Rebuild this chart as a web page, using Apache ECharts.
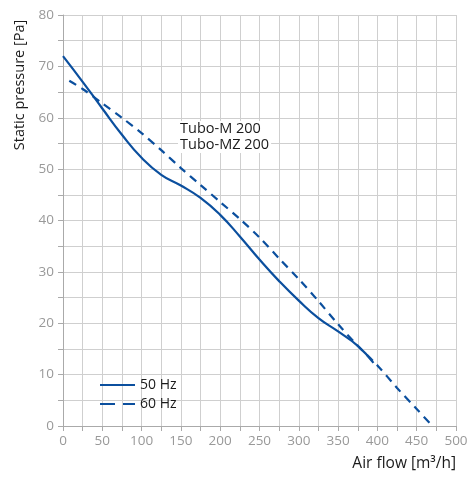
<!DOCTYPE html>
<html>
<head>
<meta charset="utf-8">
<script src="https://cdn.jsdelivr.net/npm/echarts@6/dist/echarts.min.js"></script>
<style>
html,body{margin:0;padding:0;background:#fff;}
#c{width:471px;height:481px;}
</style>
</head>
<body>
<div id="c"></div>
<script>
const flow50 = [0, 25, 50, 75, 100, 125, 150, 175, 200, 225, 250, 275, 300, 325, 350, 375, 395];
const pres50 = [72, 67, 61.8, 56.7, 52.2, 48.9, 46.8, 44.4, 41.1, 36.9, 32.4, 28.2, 24.4, 21.0, 18.4, 15.6, 12.3];
const flow60 = [8, 25, 50, 75, 100, 125, 150, 175, 200, 225, 250, 275, 300, 325, 350, 375, 400, 425, 450, 470];
const pres60 = [67.2, 65.6, 62.8, 60, 57, 53.7, 50.2, 46.9, 43.6, 40.3, 36.7, 32.6, 28.6, 24.3, 19.8, 15.6, 11.8, 7.4, 3.3, 0];
const seriesNames = ['50 Hz', '60 Hz'];
const xTicks = {min: 0, max: 500, step: 25, labelStep: 50};
const yTicks = {min: 0, max: 80, step: 5, labelStep: 10};
const xName = 'Air flow [m³/h]';
const yName = 'Static pressure [Pa]';
const noteLines = ['Tubo-M 200', 'Tubo-MZ 200'];

const FONT = 'Open Sans';
const BLUE = '#0b4f9e';
const chart = echarts.init(document.getElementById('c'));
const zip = (a, b) => a.map((v, i) => [v, b[i]]);

chart.setOption({
  animation: false,
  backgroundColor: '#fff',
  grid: {left: 63, right: 15, top: 15, bottom: 55, containLabel: false},
  xAxis: {
    type: 'value', min: xTicks.min, max: xTicks.max, interval: xTicks.step,
    axisLine: {show: true, lineStyle: {color: '#aaa', width: 1}},
    axisTick: {show: true, length: 5, lineStyle: {color: '#aaa'}},
    axisLabel: {color: '#999', fontSize: 13.5, fontFamily: FONT, margin: 8,
      formatter: v => (v % xTicks.labelStep === 0 ? String(v) : '')},
    splitLine: {show: true, lineStyle: {color: '#cfcfcf', width: 1}}
  },
  yAxis: {
    type: 'value', min: yTicks.min, max: yTicks.max, interval: yTicks.step,
    axisLine: {show: true, lineStyle: {color: '#aaa', width: 1}},
    axisTick: {show: true, length: 5, lineStyle: {color: '#aaa'}},
    axisLabel: {color: '#999', fontSize: 13.5, fontFamily: FONT, margin: 9,
      formatter: v => (v % yTicks.labelStep === 0 ? String(v) : '')},
    splitLine: {show: true, lineStyle: {color: '#cfcfcf', width: 1}}
  },
  legend: {
    orient: 'vertical', left: 95, top: 371, itemWidth: 35, itemHeight: 2, itemGap: 1,
    textStyle: {color: '#1a1a1a', fontSize: 14, fontFamily: FONT, lineHeight: 18},
    data: [
      {name: seriesNames[0], icon: 'path://M0,0h35v2h-35z'},
      {name: seriesNames[1], icon: 'path://M0,0h15v2h-15z M23,0h12v2h-12z'}
    ]
  },
  graphic: [
    {type: 'text', left: 178, top: 121, z: 100, style: {text: noteLines.join('\n'), font: '14.5px "' + FONT + '"', fill: '#1a1a1a', lineHeight: 16, backgroundColor: '#fff', padding: [0, 2, 0, 2]}},
    {type: 'text', x: 20, y: 85, rotation: Math.PI / 2, style: {text: yName, font: '14.5px "' + FONT + '"', fill: '#1a1a1a', align: 'center', verticalAlign: 'middle'}},
    {type: 'text', right: 15, top: 456, style: {text: xName, font: '15.5px "' + FONT + '"', fill: '#1a1a1a'}}
  ],
  series: [
    {name: seriesNames[0], type: 'line', data: zip(flow50, pres50), smooth: 0.5, symbol: 'none',
      lineStyle: {color: BLUE, width: 2.2}, itemStyle: {color: BLUE}},
    {name: seriesNames[1], type: 'line', data: zip(flow60, pres60), smooth: 0.3, symbol: 'none',
      lineStyle: {color: BLUE, width: 2.2, type: [8, 6]}, itemStyle: {color: BLUE}}
  ]
});
</script>
</body>
</html>
